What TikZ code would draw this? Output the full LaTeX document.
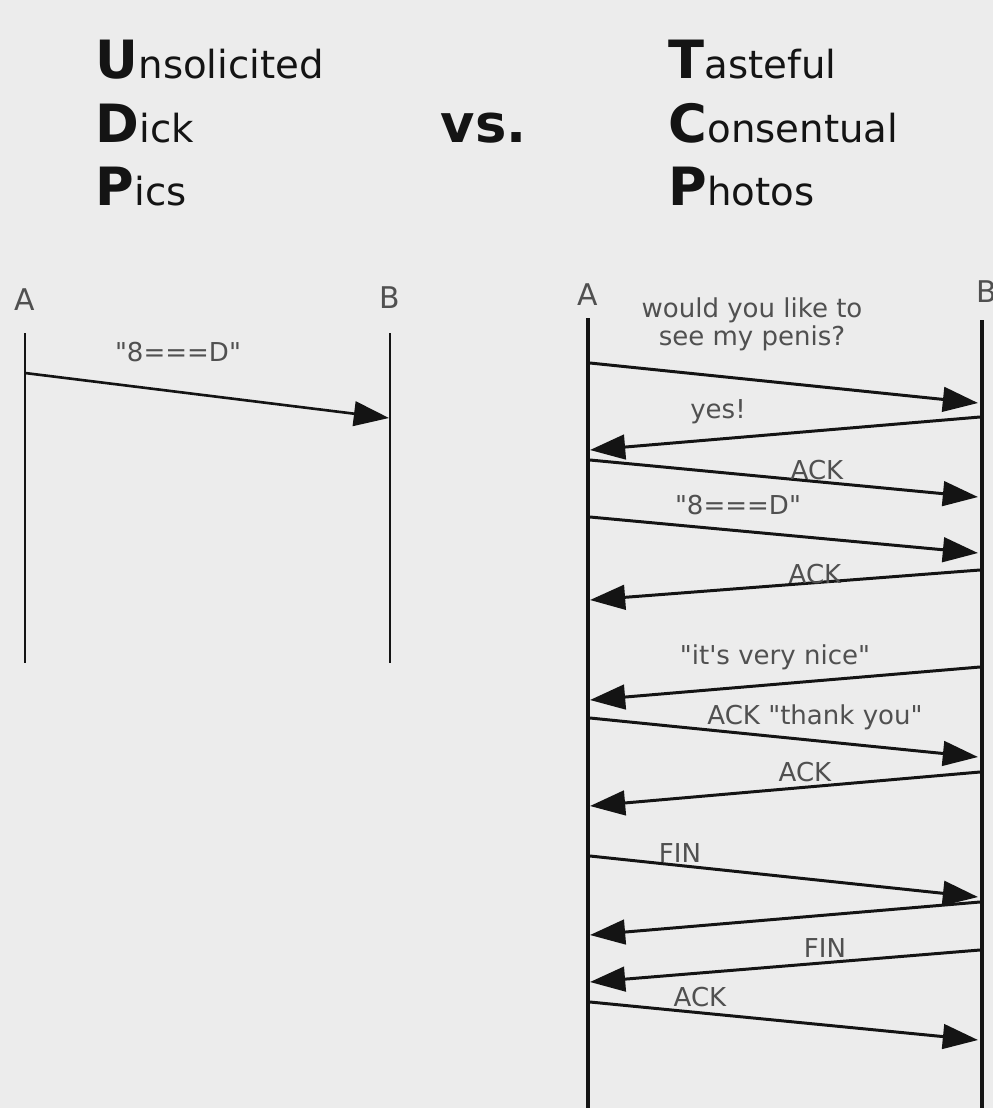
\documentclass[tikz,border=0pt]{standalone}
\usepackage{fontspec}
\setmainfont{DejaVu Sans}
\newfontfamily\plainsans{DejaVu Sans}
\usepackage{xcolor}
\usepackage{tikz}
\usetikzlibrary{arrows.meta,positioning,calc}

\definecolor{paper}{HTML}{ECECEC}
\definecolor{ink}{HTML}{141414}
\definecolor{labelgray}{HTML}{505050}

\tikzset{
  lifeline/.style={draw=ink, line width=0.45pt},
  lifelinethick/.style={draw=ink, line width=0.9pt},
  msg/.style={draw=ink, line width=0.85pt, -{Triangle[length=10pt,width=7pt]}},
  msglabel/.style={text=labelgray, font=\plainsans\fontsize{7.4}{8}\selectfont, inner sep=0pt},
  endlabel/.style={text=labelgray, font=\plainsans\fontsize{8.5}{10}\selectfont, inner sep=0pt},
  titleword/.style={anchor=base west, inner sep=0pt, text=ink, font=\fontsize{11}{13}\selectfont},
}
\newcommand{\initial}[1]{{\fontsize{15}{17}\selectfont\bfseries #1}}

\begin{document}
\begin{tikzpicture}[x=0.01cm, y=-0.01cm]
    \fill[paper] (0,0) rectangle (993,1108);
    \useasboundingbox (0,0) rectangle (993,1108);

    % Title
    \node[titleword] (udp1) at (95,78) {\initial{U}nsolicited};
    \node[titleword] (udp2) at (95,142) {\initial{D}ick};
    \node[titleword] (udp3) at (95,205) {\initial{P}ics};
    \node[titleword, font=\fontsize{15}{17}\selectfont\bfseries] (vs) at (440,142) {vs.};
    \node[titleword] (tcp1) at (668,78) {\initial{T}asteful};
    \node[titleword] (tcp2) at (668,142) {\initial{C}onsentual};
    \node[titleword] (tcp3) at (668,205) {\initial{P}hotos};

    % UDP
    \node[endlabel] (ua) at (25,300) {A};
    \node[endlabel] (ub) at (390,298) {B};
    \draw[lifeline] (25,333) -- (25,663);
    \draw[lifeline] (390,333) -- (390,663);
    \coordinate (u1s) at (25,373);
    \coordinate (u1e) at (389,418);
    \draw[msg, line width=0.75pt] (u1s) -- (u1e);
    \node[msglabel] (ul1) at (178,352) {"8===D"};

    % TCP
    \node[endlabel] (ta) at (588,295) {A};
    \node[endlabel] (tb) at (987,292) {B};
    \draw[lifelinethick] (588,318) -- (588,1108);
    \draw[lifelinethick] (982,320) -- (982,1108);

    % A -> B
    \foreach \n/\ya/\yb in {m1/363/403, m3/460/497, m4/517/553, m7/718/757, m9/856/897, m12/1002/1040}{
        \coordinate (\n s) at (590,\ya);
        \coordinate (\n e) at (978,\yb);
        \draw[msg] (\n s) -- (\n e);
    }
    % B -> A
    \foreach \n/\yb/\ya in {m2/417/450, m5/570/600, m6/667/700, m8/772/806, m10/902/935, m11/950/982}{
        \coordinate (\n s) at (980,\yb);
        \coordinate (\n e) at (590,\ya);
        \draw[msg] (\n s) -- (\n e);
    }

    \node[msglabel, align=center] (l1) at (752,324) {would you like to\\see my penis?};
    \node[msglabel] (l2) at (718,412) {yes!};
    \node[msglabel] (l3) at (817,470) {ACK};
    \node[msglabel] (l4) at (738,505) {"8===D"};
    \node[msglabel] (l5) at (815,574) {ACK};
    \node[msglabel] (l6) at (775,657) {"it's very nice"};
    \node[msglabel] (l7) at (815,717) {ACK "thank you"};
    \node[msglabel] (l8) at (805,772) {ACK};
    \node[msglabel] (l9) at (680,853) {FIN};
    \node[msglabel] (l11) at (825,948) {FIN};
    \node[msglabel] (l12) at (700,997) {ACK};
\end{tikzpicture}
\end{document}
